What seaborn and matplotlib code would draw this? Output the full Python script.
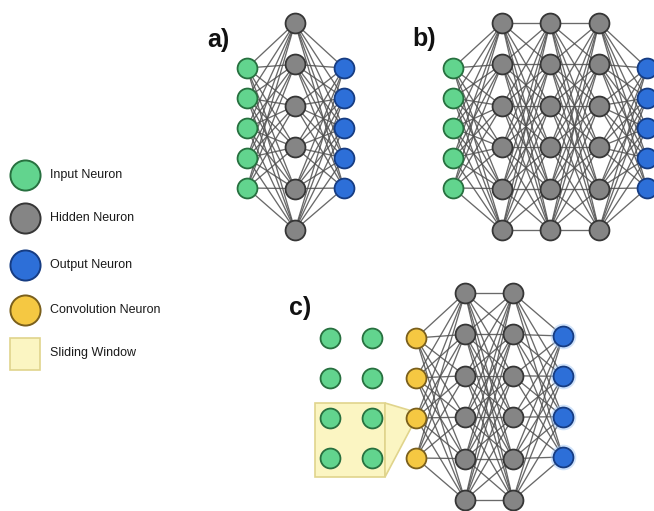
import numpy as np
import matplotlib.pyplot as plt
import seaborn as sns
from matplotlib.patches import Rectangle, Polygon
from matplotlib.collections import LineCollection

sns.set_theme(style="white")
plt.rcParams['font.family'] = ['Liberation Sans Narrow', 'Liberation Sans', 'DejaVu Sans']

# ---- network content ----
nodes_a = [5, 6, 5]
kinds_a = ["Input", "Hidden", "Output"]
nodes_b = [5, 6, 6, 6, 5]
kinds_b = ["Input", "Hidden", "Hidden", "Hidden", "Output"]
nodes_c = [4, 6, 6, 4]
kinds_c = ["Convolution", "Hidden", "Hidden", "Output"]
grid_rows, grid_cols = 4, 2
panel_labels = ["a)", "b)", "c)"]
legend_kinds = ["Input", "Hidden", "Output", "Convolution"]
legend_labels = ["Input Neuron", "Hidden Neuron", "Output Neuron",
                 "Convolution Neuron", "Sliding Window"]

# ---- layout (pixel space) ----
x_a = [247, 295, 344]
x_b = [453, 502, 550, 599, 647]
x_c = [416, 465, 513, 563]
span_io = (68, 188)
span_hid = (23, 230)
span_c = {"Convolution": (338, 458), "Hidden": (293, 500), "Output": (336, 457)}
grid_x = [330, 372]
grid_y = (338, 458)

face = {"Input": "#62d48e", "Hidden": "#858585", "Output": "#2d6fd8", "Convolution": "#f5c842"}
edge = {"Input": "#27703f", "Hidden": "#363636", "Output": "#163c82", "Convolution": "#7a5f1c"}
line_col = "#4f4f4f"

fig = plt.figure(figsize=(6.54, 5.11), dpi=100)
ax = fig.add_axes([0, 0, 1, 1])
ax.set_xlim(0, 654)
ax.set_ylim(511, 0)
ax.axis("off")


def layers(xs, counts, kinds, spans):
    out = []
    for x, n, k in zip(xs, counts, kinds):
        top, bot = spans[k]
        ys = np.linspace(top, bot, n)
        out.append((k, np.full(n, x), ys))
    return out


def draw_net(lay):
    segs = []
    for (k1, x1, y1), (k2, x2, y2) in zip(lay[:-1], lay[1:]):
        for a, b in zip(x1, y1):
            for c, d in zip(x2, y2):
                segs.append([(a, b), (c, d)])
    ax.add_collection(LineCollection(segs, colors=line_col, linewidths=0.95, alpha=0.85, zorder=1))
    for k, xs, ys in lay:
        sns.scatterplot(x=xs, y=ys, ax=ax, color=face[k], edgecolor=edge[k],
                        s=205, linewidth=1.3, zorder=3, legend=False)


spans_ab = {"Input": span_io, "Output": span_io, "Hidden": span_hid}
draw_net(layers(x_a, nodes_a, kinds_a, spans_ab))
draw_net(layers(x_b, nodes_b, kinds_b, spans_ab))
lay_c = layers(x_c, nodes_c, kinds_c, span_c)
# soft glow on the c) outputs
k, xs, ys = lay_c[-1]
sns.scatterplot(x=xs, y=ys, ax=ax, color="#9cc4f5", s=340, linewidth=0, alpha=0.45, zorder=2, legend=False)
draw_net(lay_c)

# input grid + sliding window
gx, gy = np.meshgrid(grid_x, np.linspace(grid_y[0], grid_y[1], grid_rows))
win_face, win_edge = "#fbf5c2", "#e0d48c"
ax.add_patch(Rectangle((315, 403), 70, 74, facecolor=win_face, edgecolor=win_edge, lw=1.2, zorder=2))
ax.add_patch(Polygon([(385, 403), (412, 411), (412, 426), (385, 477)], closed=True,
                     facecolor=win_face, edgecolor=win_edge, lw=1.2, zorder=2))
sns.scatterplot(x=gx.ravel(), y=gy.ravel(), ax=ax, color=face["Input"], edgecolor=edge["Input"],
                s=205, linewidth=1.3, zorder=3, legend=False)

# panel labels
for lab, (px, py) in zip(panel_labels, [(207, 40), (412, 39), (289, 308)]):
    ax.text(px, py, lab, fontsize=18, fontweight="bold", color="#111111", va="center", ha="left")

# legend
leg_y = [175, 218, 265, 310]
for kk, yy in zip(legend_kinds, leg_y):
    sns.scatterplot(x=[25], y=[yy], ax=ax, color=face[kk], edgecolor=edge[kk],
                    s=470, linewidth=1.4, zorder=3, legend=False)
ax.add_patch(Rectangle((10, 338), 30, 32, facecolor=win_face, edgecolor=win_edge, lw=1.2, zorder=2))
for lab, yy in zip(legend_labels, leg_y + [353]):
    ax.text(50, yy, lab, fontsize=9, color="#1a1a1a", va="center", ha="left")

fig.savefig("out.png", dpi=100)
